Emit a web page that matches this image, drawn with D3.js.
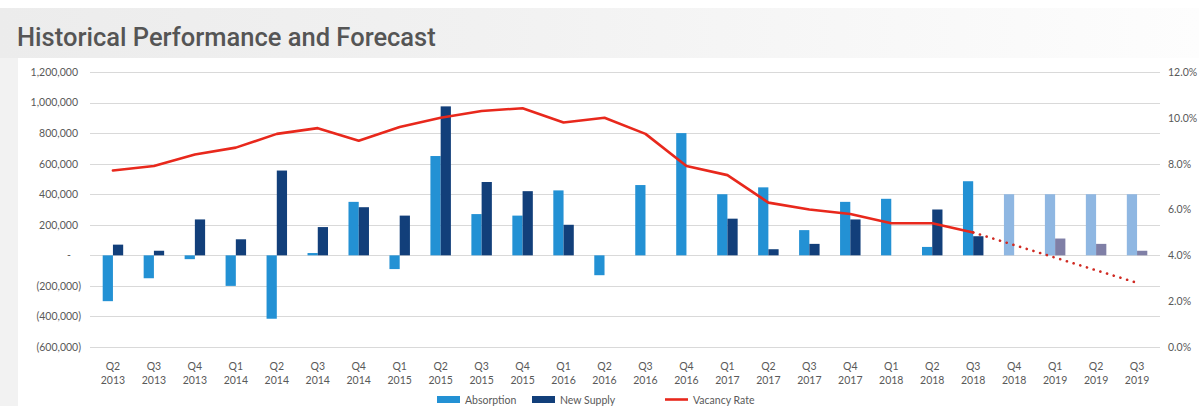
<!DOCTYPE html>
<html>
<head>
<meta charset="utf-8">
<script src="https://cdn.jsdelivr.net/npm/d3@7"></script>
<style>
  html, body { margin: 0; padding: 0; background: #ffffff; }
  svg { display: block; }
</style>
</head>
<body>
<svg id="chart" width="1199" height="406"></svg>
<script>
// Quarterly periods (two-line labels: quarter / year)
const quarters = ["Q2","Q3","Q4","Q1","Q2","Q3","Q4","Q1","Q2","Q3","Q4","Q1","Q2","Q3","Q4","Q1","Q2","Q3","Q4","Q1","Q2","Q3","Q4","Q1","Q2","Q3"];
const years    = ["2013","2013","2013","2014","2014","2014","2014","2015","2015","2015","2015","2016","2016","2016","2016","2017","2017","2017","2017","2018","2018","2018","2018","2019","2019","2019"];

// Net absorption (sq ft)
const absorption = [-300000,-150000,-25000,-200000,-415000,15000,350000,-90000,650000,270000,260000,425000,-130000,460000,800000,400000,445000,165000,350000,370000,55000,485000,400000,400000,400000,400000];
// New supply delivered (sq ft)
const newSupply  = [70000,30000,235000,105000,555000,185000,315000,260000,975000,480000,420000,200000,0,0,0,240000,40000,75000,235000,0,300000,125000,0,110000,75000,30000];
// Vacancy rate (%)
const vacancy    = [7.7,7.9,8.4,8.7,9.3,9.55,9.0,9.6,10.0,10.3,10.42,9.8,10.0,9.3,7.9,7.5,6.3,6.0,5.8,5.4,5.4,5.0,4.45,3.9,3.35,2.8];
// Number of leading periods that are actuals; the rest are forecast
const actualCount = 22;

const leftTicks  = [-600000,-400000,-200000,0,200000,400000,600000,800000,1000000,1200000];
const rightTicks = [0,2,4,6,8,10,12];

const categories = quarters.map((q, i) => q + " " + years[i]);
const seriesKeys = ["absorption", "newSupply"];

const colors = {
  absorption: "#2391d4",
  newSupply: "#123f7a",
  absorptionForecast: "#8fb7e2",
  newSupplyForecast: "#7f7fa6",
  vacancy: "#e8281c",
  grid: "#d9d9d9",
  text: "#595959"
};

const FONT = "Lato, 'Open Sans', sans-serif";
const FS = 10.5;

const svg = d3.select("#chart");
const W = 1199, H = 406;

// Page backdrop: grey title band fading to white, plus narrow left margin strip
const defs = svg.append("defs");
const grad = defs.append("linearGradient").attr("id", "band").attr("x1", 0).attr("x2", 1).attr("y1", 0).attr("y2", 0);
grad.append("stop").attr("offset", "0%").attr("stop-color", "#ececec");
grad.append("stop").attr("offset", "40%").attr("stop-color", "#f1f1f1");
grad.append("stop").attr("offset", "100%").attr("stop-color", "#fdfdfd");
svg.append("rect").attr("x", 0).attr("y", 0).attr("width", W).attr("height", H).attr("fill", "#ffffff");
svg.append("rect").attr("x", 0).attr("y", 8).attr("width", W).attr("height", 50).attr("fill", "url(#band)");
svg.append("rect").attr("x", 0).attr("y", 58).attr("width", 18).attr("height", H - 58).attr("fill", "#f2f2f2");

svg.append("text")
  .attr("x", 17).attr("y", 46)
  .attr("font-family", "Roboto, 'DejaVu Sans', sans-serif")
  .attr("font-weight", 500)
  .attr("font-size", 25.5)
  .attr("fill", "#555555")
  .text("Historical Performance and Forecast");

// Scales
const plotLeft = 90, plotRight = 1160, plotTop = 72, plotBottom = 347;
const x0 = d3.scaleBand().domain(categories).range([plotLeft, plotRight]).paddingInner(0.5).paddingOuter(0.31);
const x1 = d3.scaleBand().domain(seriesKeys).range([0, x0.bandwidth()]);
const y = d3.scaleLinear().domain([-600000, 1200000]).range([plotBottom, plotTop]);
const yR = d3.scaleLinear().domain([0, 12]).range([plotBottom, plotTop]);

// Gridlines
svg.append("g").selectAll("line").data(leftTicks).join("line")
  .attr("x1", plotLeft).attr("x2", plotRight)
  .attr("y1", d => Math.round(y(d)) + 0.5).attr("y2", d => Math.round(y(d)) + 0.5)
  .attr("stroke", colors.grid).attr("stroke-width", 1);

// Left axis labels (accounting style)
const fmt = d3.format(",");
const leftAxis = d3.axisLeft(y).tickValues(leftTicks).tickSize(0).tickPadding(0)
  .tickFormat(d => d === 0 ? "-" : d < 0 ? "(" + fmt(-d) + ")" : fmt(d));
const gL = svg.append("g").attr("transform", "translate(78,0)").call(leftAxis);
gL.select(".domain").remove();
gL.selectAll("text")
  .attr("font-family", FONT).attr("font-size", FS).attr("fill", colors.text)
  .attr("dx", d => d === 0 ? -7 : d < 0 ? 3 : 0);

// Right axis labels
const rightAxis = d3.axisRight(yR).tickValues(rightTicks).tickSize(0).tickPadding(0)
  .tickFormat(d => d3.format(".1f")(d) + "%");
const gR = svg.append("g").attr("transform", "translate(1168,0)").call(rightAxis);
gR.select(".domain").remove();
gR.selectAll("text").attr("font-family", FONT).attr("font-size", FS).attr("fill", colors.text);

// Bottom axis labels (two lines)
const gX = svg.append("g").selectAll("text").data(categories).join("text")
  .attr("x", d => x0(d) + x0.bandwidth() / 2)
  .attr("text-anchor", "middle")
  .attr("font-family", FONT).attr("font-size", FS).attr("fill", colors.text);
gX.append("tspan").attr("x", d => x0(d) + x0.bandwidth() / 2).attr("y", 370).text((d, i) => quarters[i]);
gX.append("tspan").attr("x", d => x0(d) + x0.bandwidth() / 2).attr("y", 384).text((d, i) => years[i]);

// Bars
const rows = categories.map((c, i) => ({ cat: c, i, absorption: absorption[i], newSupply: newSupply[i] }));
const groups = svg.append("g").selectAll("g").data(rows).join("g")
  .attr("transform", d => `translate(${x0(d.cat)},0)`);
groups.selectAll("rect")
  .data(d => seriesKeys.map(k => ({ key: k, value: d[k], forecast: d.i >= actualCount })))
  .join("rect")
  .filter(d => d.value !== 0)
  .attr("x", d => x1(d.key))
  .attr("width", x1.bandwidth())
  .attr("y", d => y(Math.max(0, d.value)))
  .attr("height", d => Math.abs(y(d.value) - y(0)))
  .attr("fill", d => d.forecast ? colors[d.key + "Forecast"] : colors[d.key]);

// Vacancy rate line: solid for actuals, dotted for forecast
const pts = vacancy.map((v, i) => [x0(categories[i]) + x0.bandwidth() / 2, yR(v)]);
const line = d3.line();
svg.append("path")
  .attr("d", line(pts.slice(0, actualCount)))
  .attr("fill", "none").attr("stroke", colors.vacancy).attr("stroke-width", 2.6)
  .attr("stroke-linejoin", "round").attr("stroke-linecap", "round");
svg.append("path")
  .attr("d", line(pts.slice(actualCount - 1)))
  .attr("fill", "none").attr("stroke", "#d02a22").attr("stroke-width", 2.6)
  .attr("stroke-dasharray", "0.1 6.9").attr("stroke-linecap", "round");

// Legend
const legend = svg.append("g").attr("font-family", FONT).attr("font-size", FS).attr("fill", colors.text);
const legendItems = [
  { label: "Absorption", type: "rect", color: colors.absorption, x: 437 },
  { label: "New Supply", type: "rect", color: colors.newSupply, x: 532 },
  { label: "Vacancy Rate", type: "line", color: colors.vacancy, x: 665 }
];
legendItems.forEach(it => {
  if (it.type === "rect") {
    legend.append("rect").attr("x", it.x).attr("y", 396).attr("width", 23).attr("height", 7).attr("fill", it.color);
  } else {
    legend.append("line").attr("x1", it.x).attr("x2", it.x + 23).attr("y1", 399.5).attr("y2", 399.5)
      .attr("stroke", it.color).attr("stroke-width", 2.6);
  }
  legend.append("text").attr("x", it.x + 28).attr("y", 403.5).text(it.label);
});
</script>
</body>
</html>
